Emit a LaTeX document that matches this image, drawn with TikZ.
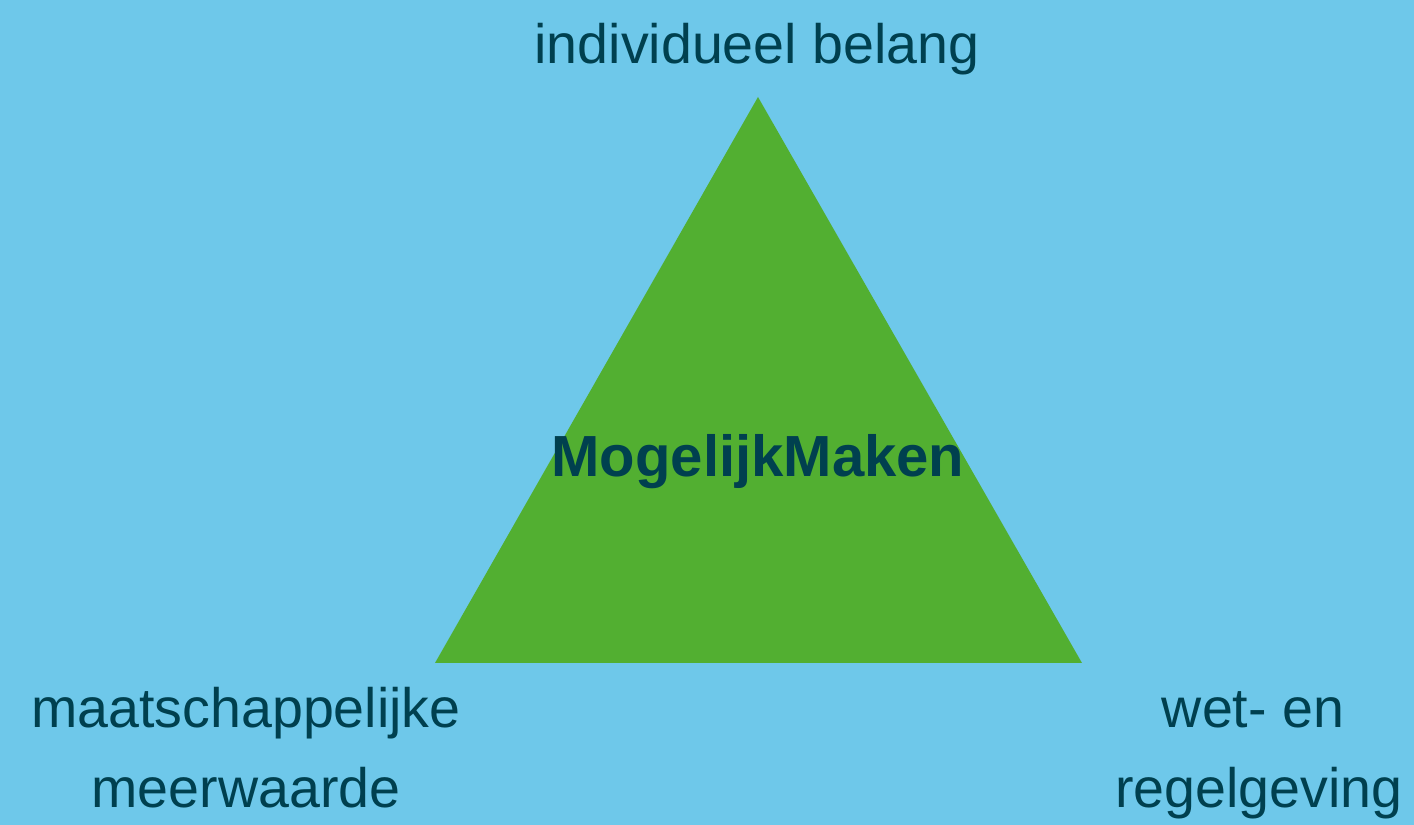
\documentclass[tikz,border=0pt]{standalone}
\usepackage{fontspec}
\setmainfont{Liberation Sans}
\definecolor{bgblue}{HTML}{6EC8EA}
\definecolor{trigreen}{HTML}{52AF31}
\definecolor{txtdark}{HTML}{00404F}
\begin{document}
\begin{tikzpicture}[x=0.01cm,y=-0.01cm,
  lbl/.style={text=txtdark,font=\fontsize{15.8}{19}\selectfont,anchor=base,inner sep=0pt},
  ttl/.style={text=txtdark,font=\fontsize{16.5}{20}\selectfont\bfseries,anchor=base,inner sep=0pt}]
\fill[bgblue] (0,0) rectangle (1414,825);
\useasboundingbox (0,0) rectangle (1414,825);
\coordinate (top) at (758,97);
\coordinate (bl) at (435,663);
\coordinate (br) at (1082,663);
\fill[trigreen] (top) -- (br) -- (bl) -- cycle;
\node[ttl] (center) at (758,477) {MogelijkMaken};
\node[lbl] (ind) at (757,64) {individueel belang};
\node[lbl] (maat1) at (246,728) {maatschappelijke};
\node[lbl] (maat2) at (246,808) {meerwaarde};
\node[lbl] (wet1) at (1253,728) {wet- en};
\node[lbl] (wet2) at (1259,808) {regelgeving};
\end{tikzpicture}
\end{document}
